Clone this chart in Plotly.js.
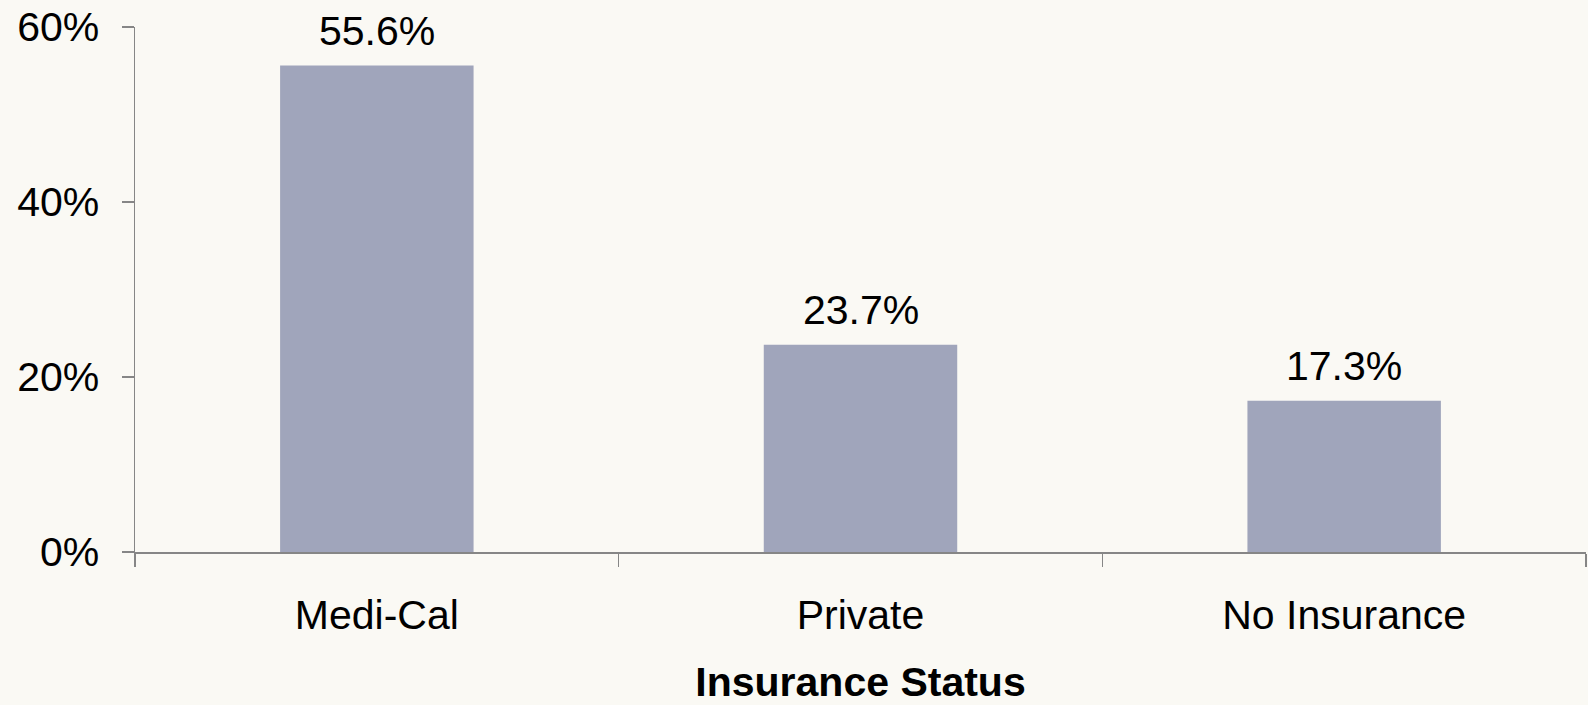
<!DOCTYPE html>
<html>
<head>
<meta charset="utf-8">
<script src="https://cdn.plot.ly/plotly-3.0.1.min.js"></script>
<style>html,body{margin:0;padding:0;background:#FAF9F4;}#chart{width:1588px;height:705px;}</style>
</head>
<body>
<div id="chart"></div>
<script>
var categories = ["Medi-Cal", "Private", "No Insurance"];
var values = [55.6, 23.7, 17.3];
var yTickVals = [0, 20, 40, 60];
var yTickText = ["0%", "20%", "40%", "60%"];

var trace = {
  type: "bar",
  x: categories,
  y: values,
  marker: {color: "#A0A5BB"},
  hoverinfo: "none"
};

var annotations = categories.map(function(c, i){
  return {
    x: c, y: values[i], xref: "x", yref: "y",
    text: values[i].toFixed(1) + "%",
    showarrow: false, yanchor: "bottom", yshift: 10,
    font: {family: "Liberation Sans, Arial, sans-serif", size: 41, color: "#000"}
  };
});

var layout = {
  width: 1588, height: 705,
  paper_bgcolor: "#FAF9F4", plot_bgcolor: "#FAF9F4",
  margin: {l: 135, r: 2, t: 27, b: 153},
  bargap: 0.6,
  showlegend: false,
  font: {family: "Liberation Sans, Arial, sans-serif", size: 41, color: "#000"},
  annotations: annotations,
  xaxis: {
    type: "category",
    showline: true, linecolor: "#868686", linewidth: 1.5,
    ticks: "outside", tickson: "boundaries", ticklen: 13, tickcolor: "#868686", tickwidth: 1.5,
    ticklabelstandoff: 26,
    showgrid: false, zeroline: false,
    tickfont: {size: 41},
    title: {text: "<b>Insurance Status</b>", font: {size: 41}, standoff: 38}
  },
  yaxis: {
    range: [0, 60],
    tickvals: yTickVals, ticktext: yTickText,
    showline: true, linecolor: "#868686", linewidth: 1.5,
    ticks: "outside", ticklen: 12, tickcolor: "#868686", tickwidth: 1.5,
    ticklabelstandoff: 14,
    showgrid: false, zeroline: false,
    tickfont: {size: 41}
  }
};

Plotly.newPlot("chart", [trace], layout, {displayModeBar: false, staticPlot: true});
</script>
</body>
</html>
